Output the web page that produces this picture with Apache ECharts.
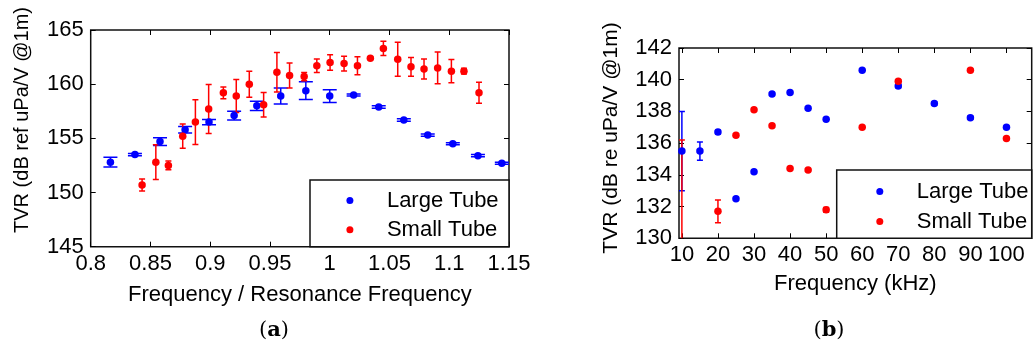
<!DOCTYPE html>
<html>
<head>
<meta charset="utf-8">
<script src="https://cdn.jsdelivr.net/npm/echarts@6/dist/echarts.min.js"></script>
<style>
html,body{margin:0;padding:0;background:#fff;}
#chart{width:1035px;height:347px;}
</style>
</head>
<body>
<div id="chart"></div>
<script>
// ---- Panel (a): TVR vs normalised frequency ----
const aLargeX = [0.8165, 0.837, 0.858, 0.879, 0.899, 0.920, 0.939, 0.959, 0.980, 1.000, 1.020, 1.041, 1.062, 1.082, 1.103, 1.124, 1.144];
const aLargeY = [152.8, 153.5, 154.7, 155.8, 156.5, 157.1, 158.0, 158.9, 159.4, 158.9, 159.0, 157.9, 156.7, 155.3, 154.5, 153.4, 152.7];
const aLargeErr = [0.45, 0.1, 0.35, 0.3, 0.25, 0.4, 0.43, 0.74, 0.82, 0.58, 0.1, 0.12, 0.12, 0.1, 0.1, 0.1, 0.1];
const aSmallX = [0.843, 0.8545, 0.865, 0.877, 0.8876, 0.8987, 0.911, 0.9218, 0.9327, 0.9447, 0.9558, 0.9664, 0.9786, 0.9892, 1.0003, 1.012, 1.0232, 1.034, 1.0449, 1.0569, 1.068, 1.0789, 1.0903, 1.1018, 1.1123, 1.1249];
const aSmallY = [150.7, 152.8, 152.5, 155.2, 156.5, 157.7, 159.2, 158.9, 160.0, 158.1, 161.1, 160.8, 160.7, 161.7, 162.0, 161.9, 161.7, 162.4, 163.3, 162.3, 161.6, 161.4, 161.5, 161.2, 161.2, 159.2];
const aSmallErr = [0.55, 1.6, 0.4, 1.12, 2.06, 2.26, 0.54, 1.52, 1.2, 1.14, 1.83, 1.15, 0.38, 0.62, 0.72, 0.68, 0.82, 0.1, 0.66, 1.58, 0.86, 0.92, 1.46, 1.08, 0.26, 0.97];

// ---- Panel (b): TVR vs frequency in kHz ----
const bLargeX = [10, 15, 20, 25, 30, 35, 40, 45, 50, 60, 70, 80, 90, 100];
const bLargeY = [135.5, 135.5, 136.7, 132.5, 134.2, 139.1, 139.2, 138.2, 137.5, 140.6, 139.6, 138.5, 137.6, 137.0];
const bLargeErr = [2.5, 0.58, 0.12, 0, 0, 0, 0.05, 0, 0, 0, 0.1, 0.1, 0.1, 0];
const bSmallX = [10, 20, 25, 30, 35, 40, 45, 50, 60, 70, 90, 100];
const bSmallY = [128.0, 131.7, 136.5, 138.1, 137.1, 134.4, 134.3, 131.8, 137.0, 139.9, 140.6, 136.3];
const bSmallErr = [8.2, 0.72, 0.1, 0, 0, 0.05, 0, 0.15, 0, 0.1, 0, 0];
const bTickValues = [10, 20, 30, 40, 50, 60, 70, 80, 90, 100];

const seriesNames = ['Large Tube', 'Small Tube'];
const BLUE = '#0000ff', RED = '#ff0000';
const FONT = 'Liberation Sans, Arial, sans-serif';

function zip3(x, y, e) { return x.map((v, i) => [v, y[i], e[i]]); }
function zip2(x, y) { return x.map((v, i) => [v, y[i]]); }

function errRender(color, capHalf) {
  return function (params, api) {
    const x = api.value(0), y = api.value(1), e = api.value(2);
    const t = api.coord([x, y + e]);
    const b = api.coord([x, y - e]);
    const st = { stroke: color, lineWidth: 1.5 };
    return {
      type: 'group',
      children: [
        { type: 'line', shape: { x1: t[0], y1: t[1], x2: b[0], y2: b[1] }, style: st },
        { type: 'line', shape: { x1: t[0] - capHalf, y1: t[1], x2: t[0] + capHalf, y2: t[1] }, style: st },
        { type: 'line', shape: { x1: b[0] - capHalf, y1: b[1], x2: b[0] + capHalf, y2: b[1] }, style: st }
      ]
    };
  };
}

const chart = echarts.init(document.getElementById('chart'), null, { renderer: 'canvas' });

const gridA = { left: 90.7, top: 30, width: 418.3, height: 216.7 };
const gridB = { left: 679, top: 48, width: 352.7, height: 190.3 };

const tickStyle = { inside: true, length: 5, lineStyle: { color: '#000', width: 1 } };
const labelStyle = { color: '#000', fontSize: 22, fontFamily: FONT };

function baseGrid(g) {
  return Object.assign({ show: true, borderColor: '#111', borderWidth: 1.5, backgroundColor: 'transparent', containLabel: false }, g);
}

const option = {
  animation: false,
  backgroundColor: '#fff',
  textStyle: { fontFamily: FONT },
  grid: [baseGrid(gridA), baseGrid(gridB)],
  xAxis: [
    { gridIndex: 0, type: 'value', min: 0.8, max: 1.15, interval: 0.05,
      axisLine: { show: false }, axisTick: tickStyle, splitLine: { show: false },
      axisLabel: Object.assign({ margin: 6 }, labelStyle),
      name: 'Frequency / Resonance Frequency', nameLocation: 'middle', nameGap: 37,
      nameTextStyle: { color: '#000', fontSize: 22, fontFamily: FONT } },
    { gridIndex: 0, type: 'value', position: 'top', min: 0.8, max: 1.15, interval: 0.05,
      axisLine: { show: false }, axisTick: tickStyle, splitLine: { show: false }, axisLabel: { show: false } },
    { gridIndex: 1, type: 'value', min: 9.2, max: 107,
      axisLine: { show: false }, splitLine: { show: false },
      axisTick: Object.assign({ customValues: bTickValues }, tickStyle),
      axisLabel: Object.assign({ margin: 6, customValues: bTickValues }, labelStyle),
      name: 'Frequency (kHz)', nameLocation: 'middle', nameGap: 35,
      nameTextStyle: { color: '#000', fontSize: 22, fontFamily: FONT } },
    { gridIndex: 1, type: 'value', position: 'top', min: 9.2, max: 107,
      axisLine: { show: false }, splitLine: { show: false },
      axisTick: Object.assign({ customValues: bTickValues }, tickStyle),
      axisLabel: { show: false, customValues: bTickValues } }
  ],
  yAxis: [
    { gridIndex: 0, type: 'value', min: 145, max: 165, interval: 5,
      axisLine: { show: false }, axisTick: tickStyle, splitLine: { show: false },
      axisLabel: Object.assign({ margin: 7 }, labelStyle) },
    { gridIndex: 0, type: 'value', position: 'right', min: 145, max: 165, interval: 5,
      axisLine: { show: false }, axisTick: tickStyle, splitLine: { show: false }, axisLabel: { show: false } },
    { gridIndex: 1, type: 'value', min: 130, max: 142, interval: 2,
      axisLine: { show: false }, axisTick: tickStyle, splitLine: { show: false },
      axisLabel: Object.assign({ margin: 7 }, labelStyle) },
    { gridIndex: 1, type: 'value', position: 'right', min: 130, max: 142, interval: 2,
      axisLine: { show: false }, axisTick: tickStyle, splitLine: { show: false }, axisLabel: { show: false } }
  ],
  legend: [
    { data: seriesNames, orient: 'vertical', left: 346.4, top: 189.5, padding: 0, itemGap: 7.3,
      itemWidth: 60, itemHeight: 7, icon: 'circle', selectedMode: false, z: 20,
      textStyle: { color: '#000', fontSize: 22, lineHeight: 22, fontFamily: FONT, padding: [0, 0, 0, 2] } },
    { data: seriesNames, orient: 'vertical', left: 876.3, top: 180.5, padding: 0, itemGap: 8,
      itemWidth: 60, itemHeight: 7, icon: 'circle', selectedMode: false, z: 20,
      textStyle: { color: '#000', fontSize: 22, lineHeight: 22, fontFamily: FONT, padding: [0, 0, 0, 2] } }
  ],
  graphic: [
    { type: 'rect', z: 15, shape: { x: 310, y: 180, width: 199, height: 66.7 },
      style: { fill: '#fff', stroke: '#111', lineWidth: 1.5 } },
    { type: 'rect', z: 15, shape: { x: 836.7, y: 170, width: 195, height: 68.3 },
      style: { fill: '#fff', stroke: '#111', lineWidth: 1.5 } },
    { type: 'text', x: 22, y: 120, rotation: Math.PI / 2,
      style: { text: 'TVR (dB ref uPa/V @1m)', fill: '#000', font: '20px ' + FONT, textAlign: 'center', textVerticalAlign: 'middle' } },
    { type: 'text', x: 611, y: 138, rotation: Math.PI / 2,
      style: { text: 'TVR (dB re uPa/V @1m)', fill: '#000', font: '21px ' + FONT, textAlign: 'center', textVerticalAlign: 'middle' } },
    { type: 'text', x: 274, y: 331,
      style: { text: '{p|(}{b|a}{p|)}', textAlign: 'center', textVerticalAlign: 'middle',
        rich: { p: { fontSize: 21, fontFamily: 'DejaVu Serif, serif', fill: '#000' },
                b: { fontSize: 21, fontFamily: 'DejaVu Serif, serif', fontWeight: 'bold', fill: '#000' } } } },
    { type: 'text', x: 829, y: 331,
      style: { text: '{p|(}{b|b}{p|)}', textAlign: 'center', textVerticalAlign: 'middle',
        rich: { p: { fontSize: 21, fontFamily: 'DejaVu Serif, serif', fill: '#000' },
                b: { fontSize: 21, fontFamily: 'DejaVu Serif, serif', fontWeight: 'bold', fill: '#000' } } } }
  ],
  series: [
    { name: 'errA-large', type: 'custom', xAxisIndex: 0, yAxisIndex: 0, clip: true, z: 2,
      renderItem: errRender(BLUE, 7), data: zip3(aLargeX, aLargeY, aLargeErr) },
    { name: 'errA-small', type: 'custom', xAxisIndex: 0, yAxisIndex: 0, clip: true, z: 2,
      renderItem: errRender(RED, 3), data: zip3(aSmallX, aSmallY, aSmallErr) },
    { name: 'errB-large', type: 'custom', xAxisIndex: 2, yAxisIndex: 2, clip: true, z: 2,
      renderItem: errRender(BLUE, 3), data: zip3(bLargeX, bLargeY, bLargeErr) },
    { name: 'errB-small', type: 'custom', xAxisIndex: 2, yAxisIndex: 2, clip: true, z: 2,
      renderItem: errRender(RED, 3), data: zip3(bSmallX, bSmallY, bSmallErr) },
    { name: 'Large Tube', type: 'scatter', xAxisIndex: 0, yAxisIndex: 0, symbol: 'circle', symbolSize: 7.5, clip: true, z: 3,
      itemStyle: { color: BLUE, opacity: 1 }, data: zip2(aLargeX, aLargeY) },
    { name: 'Small Tube', type: 'scatter', xAxisIndex: 0, yAxisIndex: 0, symbol: 'circle', symbolSize: 7.5, clip: true, z: 4,
      itemStyle: { color: RED, opacity: 1 }, data: zip2(aSmallX, aSmallY) },
    { name: 'Large Tube', type: 'scatter', xAxisIndex: 2, yAxisIndex: 2, symbol: 'circle', symbolSize: 7.5, clip: true, z: 3,
      itemStyle: { color: BLUE, opacity: 1 }, data: zip2(bLargeX, bLargeY) },
    { name: 'Small Tube', type: 'scatter', xAxisIndex: 2, yAxisIndex: 2, symbol: 'circle', symbolSize: 7.5, clip: true, z: 4,
      itemStyle: { color: RED, opacity: 1 }, data: zip2(bSmallX, bSmallY) }
  ]
};
chart.setOption(option);
</script>
</body>
</html>
